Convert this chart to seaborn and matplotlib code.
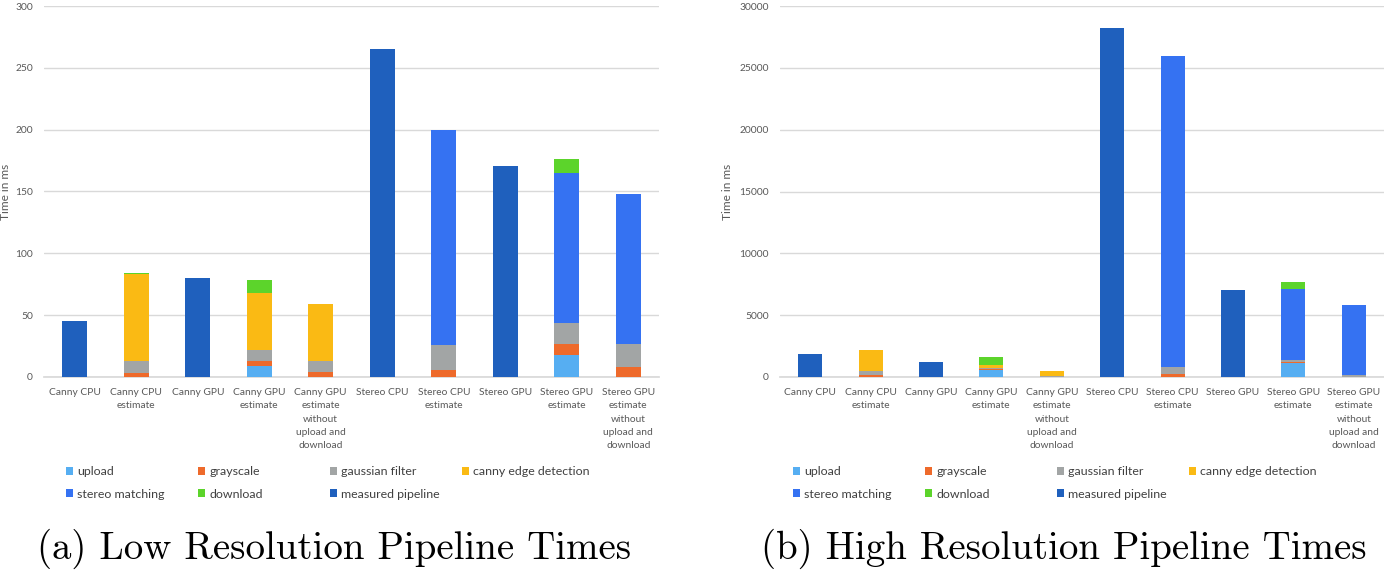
import numpy as np
import pandas as pd
import matplotlib
matplotlib.use("Agg")
import matplotlib.pyplot as plt
import seaborn as sns
from matplotlib.patches import Patch

sns.set_theme(style="white")
plt.rcParams["font.family"] = ["Lato", "DejaVu Sans"]

# categories (x axis)
categories = [
    "Canny CPU", "Canny CPU\nestimate", "Canny GPU", "Canny GPU\nestimate",
    "Canny GPU\nestimate\nwithout\nupload and\ndownload",
    "Stereo CPU", "Stereo CPU\nestimate", "Stereo GPU", "Stereo GPU\nestimate",
    "Stereo GPU\nestimate\nwithout\nupload and\ndownload",
]

components = ["upload", "grayscale", "gaussian filter", "canny edge detection",
              "stereo matching", "download", "measured pipeline"]
colors = ["#56AEF2", "#EE6A2B", "#A2A5A5", "#FABA14", "#3572F2", "#5CD42B", "#1F60BD"]

# low resolution times (ms)
low_upload    = [0, 0,  0,  8.5, 0,   0, 0,     0,   18,    0]
low_grayscale = [0, 3,  0,  4.5, 3.8, 0, 5.5,   0,   8.5,   8]
low_gaussian  = [0, 10, 0,  9,   9.5, 0, 20.5,  0,   17,    18.5]
low_canny     = [0, 70.5, 0, 46, 46,  0, 0,     0,   0,     0]
low_stereo    = [0, 0,  0,  0,   0,   0, 174,   0,   121.5, 121.5]
low_download  = [0, 0.5, 0, 10.8, 0,  0, 0,     0,   11,    0]
low_measured  = [45, 0, 80, 0,   0, 265, 0,   171,  0,     0]

# high resolution times (ms)
high_upload    = [0, 0,    0,    600, 0,   0,     0,     0,    1150, 0]
high_grayscale = [0, 150,  0,    30,  30,  0,     220,   0,    30,   30]
high_gaussian  = [0, 300,  0,    80,  80,  0,     600,   0,    190,  160]
high_canny     = [0, 1700, 0,    300, 350, 0,     0,     0,    0,    0]
high_stereo    = [0, 0,    0,    0,   0,   0,     25130, 0,    5720, 5660]
high_download  = [0, 0,    0,    600, 0,   0,     0,     0,    570,  0]
high_measured  = [1850, 0, 1190, 0,   0,   28220, 0,     7030, 0,    0]

low = [low_upload, low_grayscale, low_gaussian, low_canny, low_stereo, low_download, low_measured]
high = [high_upload, high_grayscale, high_gaussian, high_canny, high_stereo, high_download, high_measured]

W, H = 1384, 570
fig = plt.figure(figsize=(W / 100, H / 100), dpi=100)

tick_color = "#595959"
grid_color = "#D9D9D9"


def stacked(ax, layers, ymax, step):
    cum = np.cumsum(np.array(layers, dtype=float), axis=0)
    # draw from the top layer down so lower layers overdraw
    for k in range(len(layers) - 1, -1, -1):
        df = pd.DataFrame({"cat": categories, "val": cum[k]})
        sns.barplot(data=df, x="cat", y="val", order=categories, color=colors[k],
                    saturation=1, width=0.4, linewidth=0, ax=ax, zorder=3)
    ax.set_ylim(0, ymax)
    ax.set_xlim(-0.5, len(categories) - 0.5)
    ax.set_yticks(np.arange(0, ymax + 1, step))
    ax.yaxis.grid(True, color=grid_color, lw=1, zorder=0)
    ax.set_axisbelow(True)
    for s in ["top", "right", "left"]:
        ax.spines[s].set_visible(False)
    ax.spines["bottom"].set_color(grid_color)
    ax.tick_params(axis="both", length=0, colors=tick_color, labelsize=7.4)
    ax.tick_params(axis="x", pad=8)
    ax.tick_params(axis="y", pad=8)
    for t in ax.get_xticklabels():
        t.set_linespacing(1.62)
    ax.set_xlabel("")
    ax.set_ylabel("Time in ms", color=tick_color, fontsize=8.6)


def legend_cols(x0, y0):
    cols = [[0, 4], [1, 5], [2, 6], [3]]
    for i, idx in enumerate(cols):
        handles = [Patch(facecolor=colors[j], edgecolor="none", label=components[j]) for j in idx]
        fig.legend(handles=handles, loc="upper left",
                   bbox_to_anchor=((x0 + i * 132) / W, 1 - y0 / H),
                   frameon=False, fontsize=8.9, handlelength=0.6, handleheight=0.6,
                   handletextpad=0.3, labelspacing=0.95, borderpad=0, borderaxespad=0,
                   labelcolor="#404040")


ax1 = fig.add_axes([44 / W, (H - 377) / H, (659 - 44) / W, (377 - 6) / H])
stacked(ax1, low, 300, 50)
ax1.yaxis.set_label_coords(-0.053, 0.5)

ax2 = fig.add_axes([780 / W, (H - 377) / H, (1384 - 780) / W, (377 - 6) / H])
stacked(ax2, high, 30000, 5000)
ax2.yaxis.set_label_coords(-0.078, 0.5)

legend_cols(66, 466)
legend_cols(793, 466)

fig.text(334 / W, 1 - 549 / H, "(a) Low Resolution Pipeline Times", family="cmr10",
         fontsize=28, ha="center", va="center", color="black")
fig.text(1064 / W, 1 - 549 / H, "(b) High Resolution Pipeline Times", family="cmr10",
         fontsize=28, ha="center", va="center", color="black")

fig.savefig("out.png", dpi=100, facecolor="white")
